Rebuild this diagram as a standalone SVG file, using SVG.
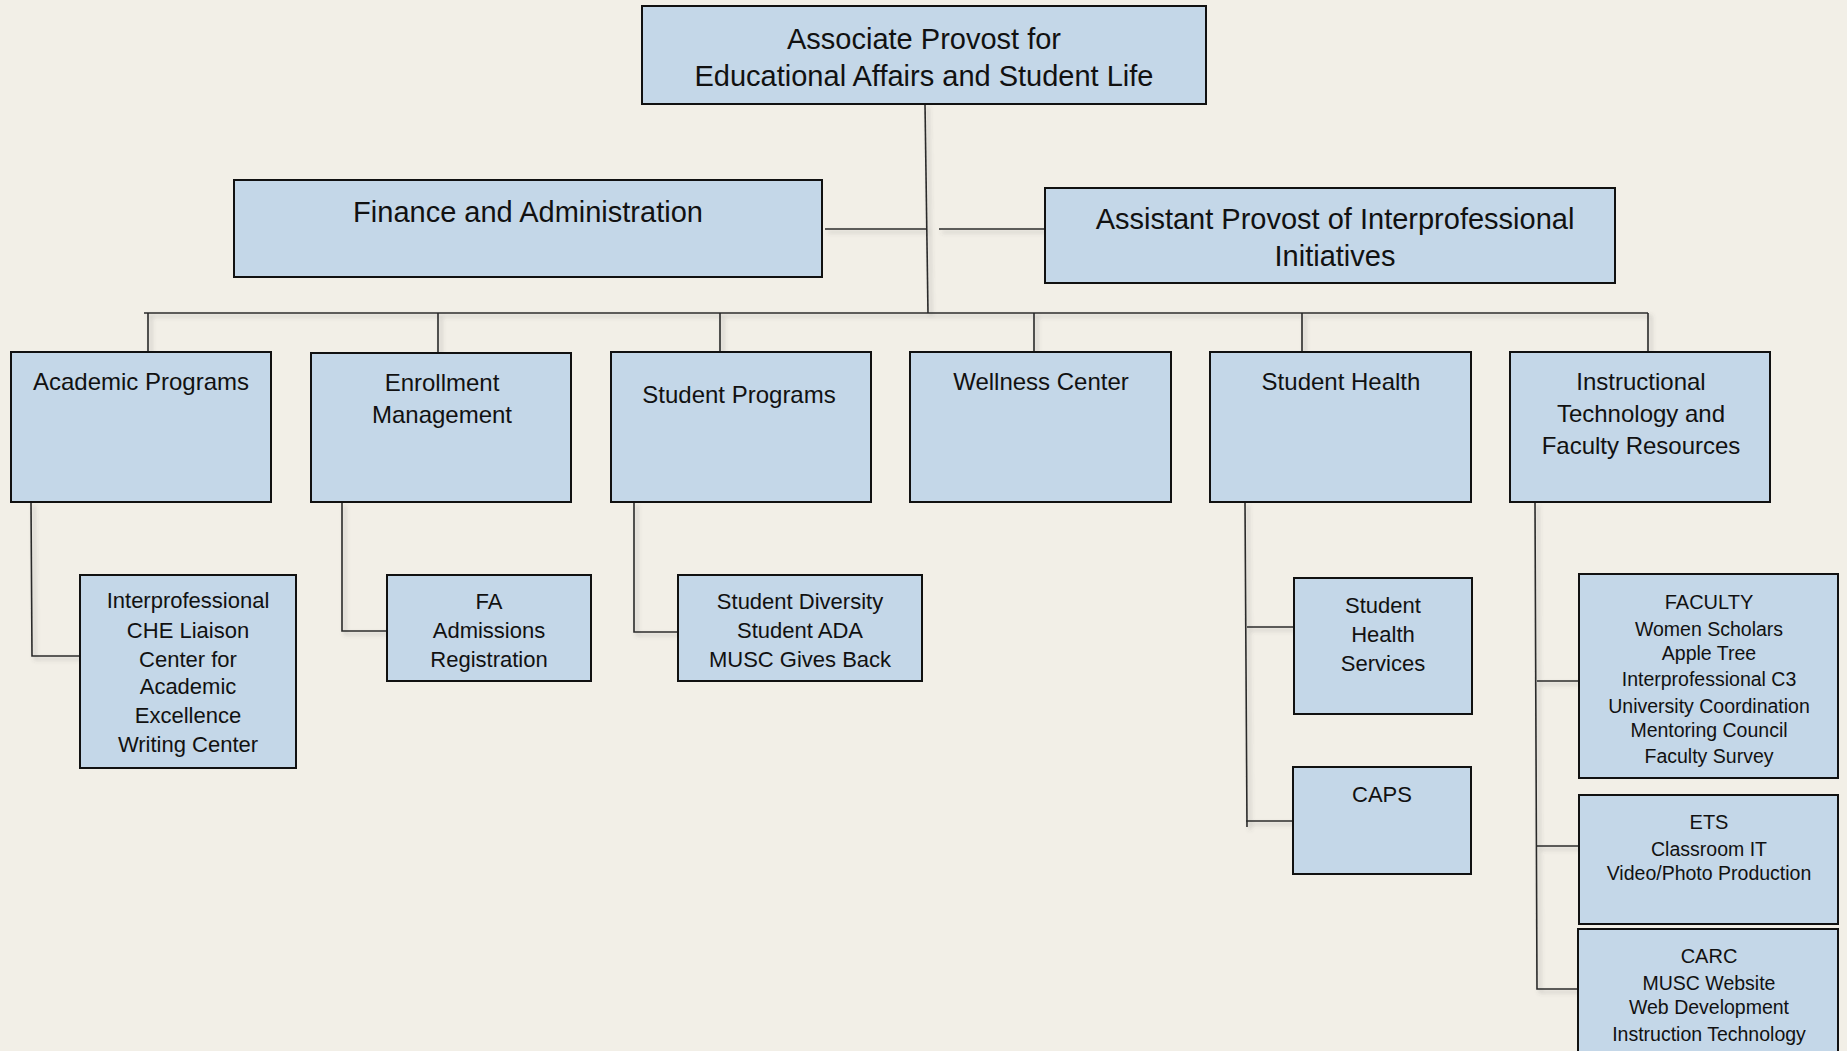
<svg xmlns="http://www.w3.org/2000/svg" width="1847" height="1051" viewBox="0 0 1847 1051">
<style>
.box{fill:#C4D7E8;stroke:#111;stroke-width:2}
.t{font-family:"Liberation Sans",Arial,sans-serif;fill:#111;text-anchor:middle}
.l1{font-size:29px}
.l2{font-size:24px}
.l3{font-size:22px}
.hd{font-size:20px}
.sb{font-size:19.5px}
.cn{fill:none;stroke:#2a2a2a;stroke-width:1.6}
</style>
<defs>
<filter id="sh" filterUnits="userSpaceOnUse" x="0" y="0" width="1847" height="1051">
<feDropShadow dx="3" dy="3" stdDeviation="2" flood-color="#555" flood-opacity="0.35"/>
</filter>
</defs>
<rect width="1847" height="1051" fill="#F2EFE7"/>

<g id="connectors" class="cn" filter="url(#sh)">
<path d="M925,104 L928,313"/>
<path d="M825,229 H927"/>
<path d="M939,229 H1044"/>
<path d="M144,313 H1648"/>
<path d="M148,313 V352 M438,313 V353 M720,313 V352 M1034,313 V352 M1302,313 V352 M1648,313 V352"/>
<path d="M31,502 L32,656 H80"/>
<path d="M342,502 V631 H387"/>
<path d="M634,502 V632 H678"/>
<path d="M1245,502 L1247,827 M1247,627 H1293 M1246,821 H1293"/>
<path d="M1535,502 L1537,989 H1578 M1537,681 H1579 M1536,846 H1579"/>
</g>

<g id="n-top"><rect class="box" x="642" y="6" width="564" height="98"/>
<text class="t l1" x="924" y="49">Associate Provost for</text>
<text class="t l1" x="924" y="86">Educational Affairs and Student Life</text></g>

<g id="n-finance"><rect class="box" x="234" y="180" width="588" height="97"/>
<text class="t l1" x="528" y="222">Finance and Administration</text></g>

<g id="n-assistant"><rect class="box" x="1045" y="188" width="570" height="95"/>
<text class="t l1" x="1335" y="229">Assistant Provost of Interprofessional</text>
<text class="t l1" x="1335" y="266">Initiatives</text></g>

<g id="n-academic"><rect class="box" x="11" y="352" width="260" height="150"/>
<text class="t l2" x="141" y="390">Academic Programs</text></g>

<g id="n-enrollment"><rect class="box" x="311" y="353" width="260" height="149"/>
<text class="t l2" x="442" y="391">Enrollment</text>
<text class="t l2" x="442" y="423">Management</text></g>

<g id="n-studentprograms"><rect class="box" x="611" y="352" width="260" height="150"/>
<text class="t l2" x="739" y="403">Student Programs</text></g>

<g id="n-wellness"><rect class="box" x="910" y="352" width="261" height="150"/>
<text class="t l2" x="1041" y="390">Wellness Center</text></g>

<g id="n-studenthealth"><rect class="box" x="1210" y="352" width="261" height="150"/>
<text class="t l2" x="1341" y="390">Student Health</text></g>

<g id="n-instructional"><rect class="box" x="1510" y="352" width="260" height="150"/>
<text class="t l2" x="1641" y="390">Instructional</text>
<text class="t l2" x="1641" y="422">Technology and</text>
<text class="t l2" x="1641" y="454">Faculty Resources</text></g>

<g id="n-interprof"><rect class="box" x="80" y="575" width="216" height="193"/>
<text class="t l3" x="188" y="608">Interprofessional</text>
<text class="t l3" x="188" y="638">CHE Liaison</text>
<text class="t l3" x="188" y="667">Center for</text>
<text class="t l3" x="188" y="694">Academic</text>
<text class="t l3" x="188" y="723">Excellence</text>
<text class="t l3" x="188" y="752">Writing Center</text></g>

<g id="n-fa"><rect class="box" x="387" y="575" width="204" height="106"/>
<text class="t l3" x="489" y="609">FA</text>
<text class="t l3" x="489" y="638">Admissions</text>
<text class="t l3" x="489" y="667">Registration</text></g>

<g id="n-diversity"><rect class="box" x="678" y="575" width="244" height="106"/>
<text class="t l3" x="800" y="609">Student Diversity</text>
<text class="t l3" x="800" y="638">Student ADA</text>
<text class="t l3" x="800" y="667">MUSC Gives Back</text></g>

<g id="n-shs"><rect class="box" x="1294" y="578" width="178" height="136"/>
<text class="t l3" x="1383" y="613">Student</text>
<text class="t l3" x="1383" y="642">Health</text>
<text class="t l3" x="1383" y="671">Services</text></g>

<g id="n-caps"><rect class="box" x="1293" y="767" width="178" height="107"/>
<text class="t l3" x="1382" y="802">CAPS</text></g>

<g id="n-faculty"><rect class="box" x="1579" y="574" width="259" height="204"/>
<text class="t hd" x="1709" y="609">FACULTY</text>
<text class="t sb" x="1709" y="636">Women Scholars</text>
<text class="t sb" x="1709" y="660">Apple Tree</text>
<text class="t sb" x="1709" y="686">Interprofessional C3</text>
<text class="t sb" x="1709" y="713">University Coordination</text>
<text class="t sb" x="1709" y="737">Mentoring Council</text>
<text class="t sb" x="1709" y="763">Faculty Survey</text></g>

<g id="n-ets"><rect class="box" x="1579" y="795" width="259" height="129"/>
<text class="t hd" x="1709" y="829">ETS</text>
<text class="t sb" x="1709" y="856">Classroom IT</text>
<text class="t sb" x="1709" y="880">Video/Photo Production</text></g>

<g id="n-carc"><rect class="box" x="1578" y="929" width="260" height="140"/>
<text class="t hd" x="1709" y="963">CARC</text>
<text class="t sb" x="1709" y="990">MUSC Website</text>
<text class="t sb" x="1709" y="1014">Web Development</text>
<text class="t sb" x="1709" y="1041">Instruction Technology</text></g>
</svg>
